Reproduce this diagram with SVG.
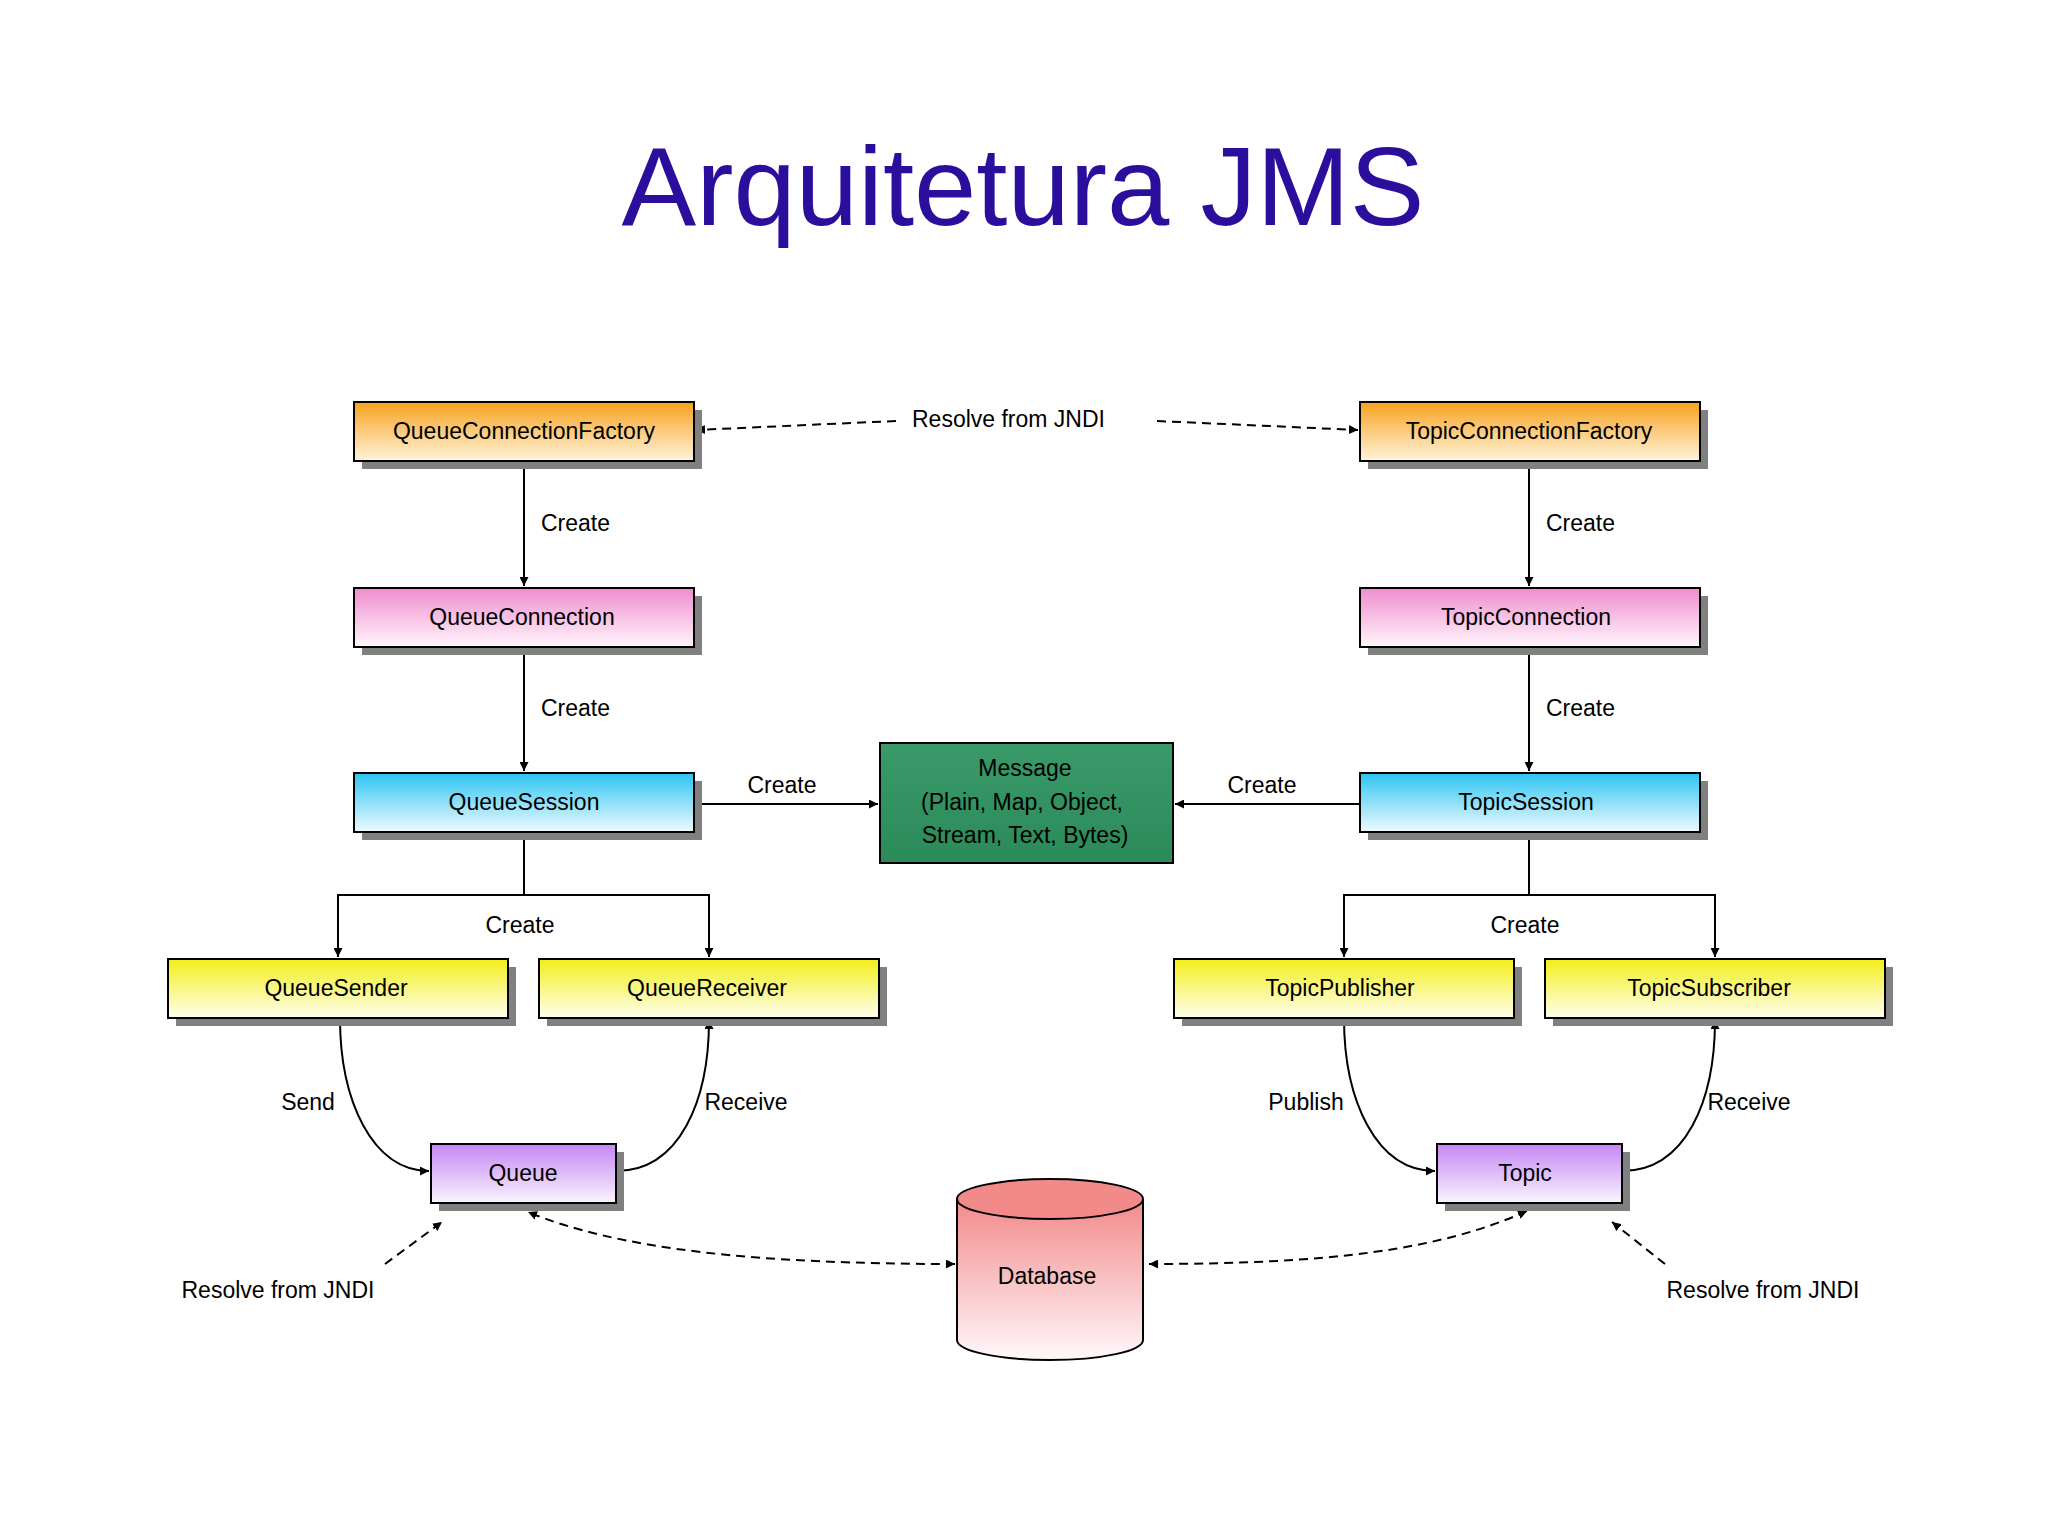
<svg xmlns="http://www.w3.org/2000/svg" width="2048" height="1536" viewBox="0 0 2048 1536">
<defs>
<linearGradient id="gO" x1="0" y1="0" x2="0" y2="1"><stop offset="0" stop-color="#f7a21e"/><stop offset="1" stop-color="#fff4dc"/></linearGradient>
<linearGradient id="gP" x1="0" y1="0" x2="0" y2="1"><stop offset="0" stop-color="#f08ccf"/><stop offset="1" stop-color="#fff6fb"/></linearGradient>
<linearGradient id="gC" x1="0" y1="0" x2="0" y2="1"><stop offset="0" stop-color="#2cc4f2"/><stop offset="1" stop-color="#f0fbff"/></linearGradient>
<linearGradient id="gY" x1="0" y1="0" x2="0" y2="1"><stop offset="0" stop-color="#f2ee1a"/><stop offset="1" stop-color="#fffff0"/></linearGradient>
<linearGradient id="gV" x1="0" y1="0" x2="0" y2="1"><stop offset="0" stop-color="#c586f2"/><stop offset="1" stop-color="#faf4ff"/></linearGradient>
<linearGradient id="gG" x1="0" y1="0" x2="0" y2="1"><stop offset="0" stop-color="#3a9a6a"/><stop offset="1" stop-color="#2a8a58"/></linearGradient>
<linearGradient id="gD" x1="0" y1="0" x2="0" y2="1"><stop offset="0" stop-color="#f28a8a"/><stop offset="1" stop-color="#fff8fa"/></linearGradient>
<marker id="ar" viewBox="0 0 10 10" refX="10" refY="5" markerWidth="9" markerHeight="9" markerUnits="userSpaceOnUse" orient="auto-start-reverse"><path d="M0 0L10 5L0 10z" fill="#000"/></marker>
</defs>
<style>
.b{stroke:#000;stroke-width:2}
.sh{fill:#808080}
.t{font-family:"Liberation Sans",Arial,sans-serif;font-size:23px;fill:#000;text-anchor:middle}
.l{font-family:"Liberation Sans",Arial,sans-serif;font-size:23px;fill:#000}
.c{fill:none;stroke:#000;stroke-width:2}
.d{fill:none;stroke:#000;stroke-width:2;stroke-dasharray:9 6}
</style>
<rect width="2048" height="1536" fill="#fff"/>
<text x="1023" y="225" font-family="Liberation Sans,Arial,sans-serif" font-size="112" fill="#2b0f9c" text-anchor="middle">Arquitetura JMS</text>

<g id="connectors">
<path class="c" d="M524 461V586" marker-end="url(#ar)"/>
<path class="c" d="M524 647V771" marker-end="url(#ar)"/>
<path class="c" d="M1529 461V586" marker-end="url(#ar)"/>
<path class="c" d="M1529 647V771" marker-end="url(#ar)"/>
<path class="c" d="M694 804H878" marker-end="url(#ar)"/>
<path class="c" d="M1360 804H1175" marker-end="url(#ar)"/>
<path class="c" d="M524 832V895H338V957" marker-end="url(#ar)"/>
<path class="c" d="M524 895H709V957" marker-end="url(#ar)"/>
<path class="c" d="M1529 832V895H1344V957" marker-end="url(#ar)"/>
<path class="c" d="M1529 895H1715V957" marker-end="url(#ar)"/>
<path class="c" d="M340 1018C340 1100 372 1171 429 1171" marker-end="url(#ar)"/>
<path class="c" d="M616 1171C680 1171 709 1100 709 1020" marker-end="url(#ar)"/>
<path class="c" d="M1344 1018C1344 1100 1376 1171 1435 1171" marker-end="url(#ar)"/>
<path class="c" d="M1622 1171C1686 1171 1715 1100 1715 1020" marker-end="url(#ar)"/>
<path class="d" d="M896 421L696 430" marker-end="url(#ar)"/>
<path class="d" d="M1157 421L1358 430" marker-end="url(#ar)"/>
<path class="d" d="M955 1264C760 1264 620 1250 528 1212" marker-start="url(#ar)" marker-end="url(#ar)"/>
<path class="d" d="M1149 1264C1330 1264 1440 1250 1527 1211" marker-start="url(#ar)" marker-end="url(#ar)"/>
<path class="d" d="M385 1264L442 1222" marker-end="url(#ar)"/>
<path class="d" d="M1665 1264L1612 1222" marker-end="url(#ar)"/>
</g>

<g id="labels">
<text class="l" x="912" y="427">Resolve from JNDI</text>
<text class="l" x="541" y="531">Create</text>
<text class="l" x="541" y="716">Create</text>
<text class="l" x="1546" y="531">Create</text>
<text class="l" x="1546" y="716">Create</text>
<text class="t" x="782" y="793">Create</text>
<text class="t" x="1262" y="793">Create</text>
<text class="t" x="520" y="933">Create</text>
<text class="t" x="1525" y="933">Create</text>
<text class="t" x="308" y="1110">Send</text>
<text class="t" x="746" y="1110">Receive</text>
<text class="t" x="1306" y="1110">Publish</text>
<text class="t" x="1749" y="1110">Receive</text>
<text class="t" x="278" y="1298">Resolve from JNDI</text>
<text class="t" x="1763" y="1298">Resolve from JNDI</text>
</g>

<g id="QueueConnectionFactory"><rect class="sh" x="362" y="410" width="340" height="59"/><rect class="b" x="354" y="402" width="340" height="59" fill="url(#gO)"/><text class="t" x="524" y="439">QueueConnectionFactory</text></g>
<g id="TopicConnectionFactory"><rect class="sh" x="1368" y="410" width="340" height="59"/><rect class="b" x="1360" y="402" width="340" height="59" fill="url(#gO)"/><text class="t" x="1529" y="439">TopicConnectionFactory</text></g>
<g id="QueueConnection"><rect class="sh" x="362" y="596" width="340" height="59"/><rect class="b" x="354" y="588" width="340" height="59" fill="url(#gP)"/><text class="t" x="522" y="625">QueueConnection</text></g>
<g id="TopicConnection"><rect class="sh" x="1368" y="596" width="340" height="59"/><rect class="b" x="1360" y="588" width="340" height="59" fill="url(#gP)"/><text class="t" x="1526" y="625">TopicConnection</text></g>
<g id="QueueSession"><rect class="sh" x="362" y="781" width="340" height="59"/><rect class="b" x="354" y="773" width="340" height="59" fill="url(#gC)"/><text class="t" x="524" y="810">QueueSession</text></g>
<g id="TopicSession"><rect class="sh" x="1368" y="781" width="340" height="59"/><rect class="b" x="1360" y="773" width="340" height="59" fill="url(#gC)"/><text class="t" x="1526" y="810">TopicSession</text></g>
<g id="Message"><rect class="b" x="880" y="743" width="293" height="120" fill="url(#gG)"/><text class="t" x="1025" y="776">Message</text><text class="t" x="1022" y="810">(Plain, Map, Object,</text><text class="t" x="1025" y="843">Stream, Text, Bytes)</text></g>
<g id="QueueSender"><rect class="sh" x="176" y="967" width="340" height="59"/><rect class="b" x="168" y="959" width="340" height="59" fill="url(#gY)"/><text class="t" x="336" y="996">QueueSender</text></g>
<g id="QueueReceiver"><rect class="sh" x="547" y="967" width="340" height="59"/><rect class="b" x="539" y="959" width="340" height="59" fill="url(#gY)"/><text class="t" x="707" y="996">QueueReceiver</text></g>
<g id="TopicPublisher"><rect class="sh" x="1182" y="967" width="340" height="59"/><rect class="b" x="1174" y="959" width="340" height="59" fill="url(#gY)"/><text class="t" x="1340" y="996">TopicPublisher</text></g>
<g id="TopicSubscriber"><rect class="sh" x="1553" y="967" width="340" height="59"/><rect class="b" x="1545" y="959" width="340" height="59" fill="url(#gY)"/><text class="t" x="1709" y="996">TopicSubscriber</text></g>
<g id="Queue"><rect class="sh" x="439" y="1152" width="185" height="59"/><rect class="b" x="431" y="1144" width="185" height="59" fill="url(#gV)"/><text class="t" x="523" y="1181">Queue</text></g>
<g id="Topic"><rect class="sh" x="1445" y="1152" width="185" height="59"/><rect class="b" x="1437" y="1144" width="185" height="59" fill="url(#gV)"/><text class="t" x="1525" y="1181">Topic</text></g>
<g id="Database"><path class="b" d="M957 1199V1340A93 20 0 0 0 1143 1340V1199" fill="url(#gD)"/><ellipse class="b" cx="1050" cy="1199" rx="93" ry="20" fill="#f28a8a"/><text class="t" x="1047" y="1284">Database</text></g>
</svg>
